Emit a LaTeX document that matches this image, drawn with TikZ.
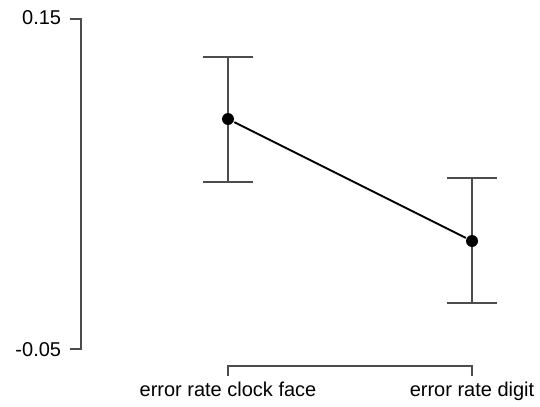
\documentclass[tikz,border=0pt]{standalone}
\usepackage{fontspec}
\setmainfont{Liberation Sans}
\usetikzlibrary{calc}

\begin{document}
\begin{tikzpicture}[x=0.75pt, y=-0.75pt, line width=1.4pt, font=\fontsize{15}{18}\selectfont]
  \useasboundingbox (0,0) rectangle (540,407);
  \tikzset{
    axis/.style={draw=black!70},
    errbar/.style={draw=black!70},
    ticklabel/.style={anchor=base east, inner sep=0pt},
    dot/.style={circle, fill=black, inner sep=0pt, minimum size=9pt}
  }
  % y axis, ticks at 0.15 and -0.05
  \coordinate (Ytop) at (81,19);
  \coordinate (Ybot) at (81,349);
  \draw[axis] ($(Ytop)+(-11,0)$) -- (Ytop) -- (Ybot) -- ($(Ybot)+(-11,0)$);
  \node[ticklabel] at (62,25) {0.15};
  \node[ticklabel] at (62,356) {-0.05};
  % x axis
  \coordinate (Xl) at (228,366);
  \coordinate (Xr) at (472,366);
  \draw[axis] ($(Xl)+(0,10)$) -- (Xl) -- (Xr) -- ($(Xr)+(0,10)$);
  \node[anchor=base] at (228,396) {error rate clock face};
  \node[anchor=base] at (472,396) {error rate digit};
  % error bars
  \draw[errbar] (228,57) -- (228,182);
  \draw[errbar] (203,57) -- (253,57);
  \draw[errbar] (203,182) -- (253,182);
  \draw[errbar] (472,178) -- (472,303);
  \draw[errbar] (447,178) -- (497,178);
  \draw[errbar] (447,303) -- (497,303);
  % means
  \node[dot] (clock) at (228,119) {};
  \node[dot] (digit) at (472,241) {};
  \draw (clock) -- (digit);
\end{tikzpicture}
\end{document}
